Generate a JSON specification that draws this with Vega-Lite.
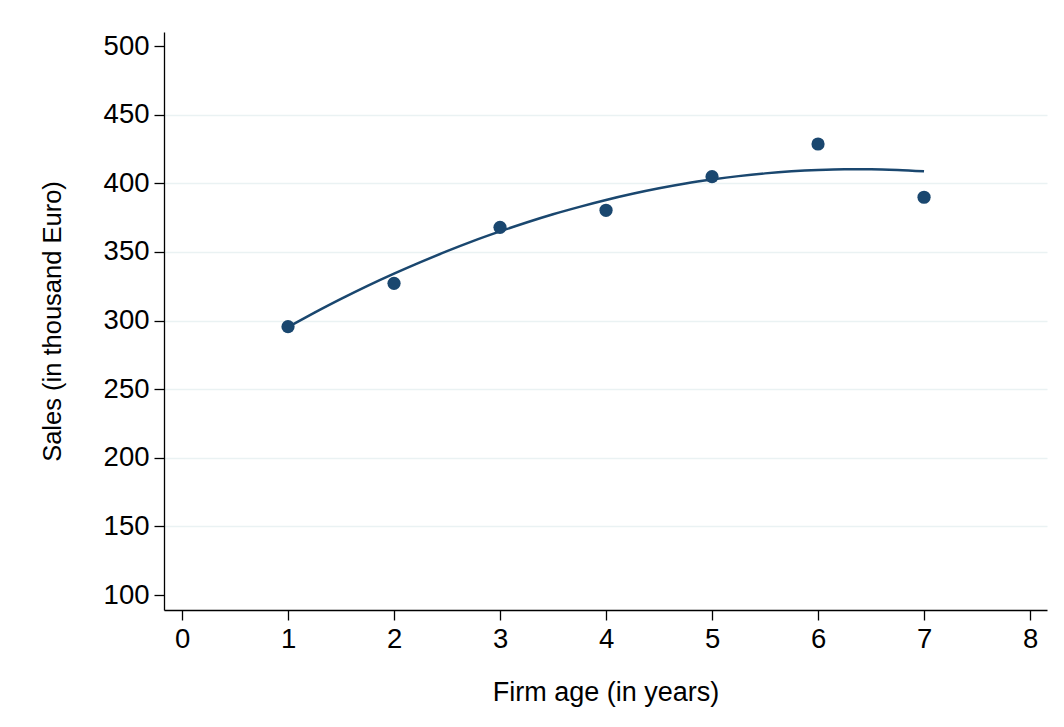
{
  "$schema": "https://vega.github.io/schema/vega-lite/v6.json",
  "width": 883,
  "height": 578,
  "autosize": {"type": "none"},
  "padding": {"left": 164, "top": 32, "right": 17, "bottom": 117},
  "background": "white",
  "config": {
    "view": {"stroke": null},
    "font": "Liberation Sans",
    "axis": {
      "domainColor": "#000000",
      "domainWidth": 1.3,
      "tickColor": "#000000",
      "tickWidth": 1.3,
      "tickSize": 10,
      "labelFont": "Liberation Sans",
      "labelFontSize": 27.5,
      "labelColor": "#000000",
      "labelPadding": 5,
      "titleFont": "Liberation Sans",
      "titleFontWeight": "normal",
      "titleColor": "#000000"
    }
  },
  "datasets": {
    "points": [
      {"age": 1, "sales": 295.5},
      {"age": 2, "sales": 327.1},
      {"age": 3, "sales": 367.9},
      {"age": 4, "sales": 380.3},
      {"age": 5, "sales": 404.8},
      {"age": 6, "sales": 428.6},
      {"age": 7, "sales": 389.8}
    ],
    "fit": [
      {"age": 1, "fitted": 295.3},
      {"age": 1.25, "fitted": 305.7},
      {"age": 1.5, "fitted": 315.7},
      {"age": 1.75, "fitted": 325.2},
      {"age": 2, "fitted": 334.1},
      {"age": 2.25, "fitted": 342.5},
      {"age": 2.5, "fitted": 350.5},
      {"age": 2.75, "fitted": 358.0},
      {"age": 3, "fitted": 364.9},
      {"age": 3.25, "fitted": 371.4},
      {"age": 3.5, "fitted": 377.4},
      {"age": 3.75, "fitted": 382.8},
      {"age": 4, "fitted": 387.8},
      {"age": 4.25, "fitted": 392.3},
      {"age": 4.5, "fitted": 396.3},
      {"age": 4.75, "fitted": 399.8},
      {"age": 5, "fitted": 402.7},
      {"age": 5.25, "fitted": 405.2},
      {"age": 5.5, "fitted": 407.2},
      {"age": 5.75, "fitted": 408.7},
      {"age": 6, "fitted": 409.7},
      {"age": 6.25, "fitted": 410.2},
      {"age": 6.5, "fitted": 410.2},
      {"age": 6.75, "fitted": 409.7},
      {"age": 7, "fitted": 408.7}
    ]
  },
  "layer": [
    {
      "data": {"name": "points"},
      "mark": {"type": "point", "filled": true, "shape": "circle", "size": 175, "color": "#1a476f", "opacity": 1},
      "encoding": {
        "x": {
          "field": "age",
          "type": "quantitative",
          "scale": {"domain": [-0.17, 8.16], "nice": false, "zero": false},
          "axis": {
            "title": "Firm age (in years)",
            "titleFontSize": 27,
            "format": "d",
            "values": [0, 1, 2, 3, 4, 5, 6, 7, 8],
            "grid": false,
            "titlePadding": 27
          }
        },
        "y": {
          "field": "sales",
          "type": "quantitative",
          "scale": {"domain": [89.1, 510.2], "nice": false, "zero": false},
          "axis": {
            "title": "Sales (in thousand Euro)",
            "titleFontSize": 25.5,
            "format": "d",
            "values": [100, 150, 200, 250, 300, 350, 400, 450, 500],
            "grid": true,
            "gridColor": {"condition": {"test": "datum.value == 100 || datum.value == 500", "value": "transparent"}, "value": "#eaf2f3"},
            "gridWidth": 1.6,
            "titlePadding": 38
          }
        }
      }
    },
    {
      "data": {"name": "fit"},
      "mark": {"type": "line", "color": "#1a476f", "strokeWidth": 2.5, "interpolate": "monotone"},
      "encoding": {
        "x": {"field": "age", "type": "quantitative"},
        "y": {"field": "fitted", "type": "quantitative"}
      }
    }
  ]
}
